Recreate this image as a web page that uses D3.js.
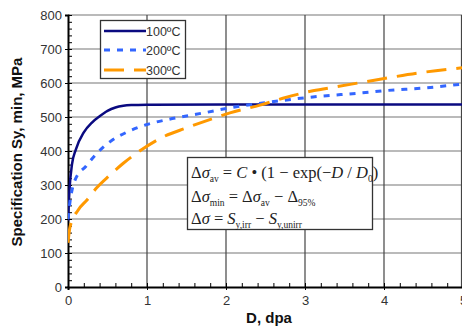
<!DOCTYPE html>
<html><head><meta charset="utf-8">
<script src="https://cdn.jsdelivr.net/npm/d3@7"></script>
<style>body{margin:0;background:#fff}svg{display:block}</style>
</head><body>
<svg id="c" width="462" height="328"></svg>
<script>
const seriesNames = ["100ºC", "200ºC", "300ºC"];
const d100 = [0, 0.02, 0.05, 0.1, 0.2, 0.3, 0.4, 0.5, 0.6, 0.7, 0.8, 1.0, 2, 3, 4, 5];
const v100 = [195, 290, 360, 405, 455, 483, 502, 518, 528, 533, 535, 536, 537, 537, 537, 537];
const d200 = [0, 0.025, 0.09, 0.23, 0.37, 0.53, 0.75, 1.0, 1.25, 1.5, 1.76, 2.05, 2.56, 3.1, 3.73, 4.04, 4.49, 5];
const v200 = [200, 250, 315, 356, 394, 427, 456, 478, 492, 503, 514, 527, 544, 559, 571, 578, 585, 597];
const d300 = [0, 0.025, 0.127, 0.24, 0.36, 0.53, 0.70, 0.87, 1.2, 1.5, 1.89, 2.05, 2.43, 2.72, 3.1, 3.4, 3.95, 4.42, 5];
const v300 = [130, 176, 226, 256, 291, 329, 364, 394, 441, 468, 500, 512, 535, 555, 577, 589, 611, 629, 645];
const xTicks = [0, 1, 2, 3, 4, 5];
const yTicks = [0, 100, 200, 300, 400, 500, 600, 700, 800];

const svg = d3.select("#c");
const x = d3.scaleLinear().domain([0, 5]).range([68, 463]);
const y = d3.scaleLinear().domain([0, 800]).range([287, 15]);

// grid
svg.append("g").selectAll("line").data(yTicks.slice(1)).join("line")
  .attr("x1", x(0)).attr("x2", 462).attr("y1", d => y(d)).attr("y2", d => y(d))
  .attr("stroke", "#777").attr("stroke-width", 1.2);
svg.append("g").selectAll("line").data(xTicks.slice(1)).join("line")
  .attr("x1", d => Math.min(x(d), 461.5)).attr("x2", d => Math.min(x(d), 461.5)).attr("y1", y(0)).attr("y2", y(800))
  .attr("stroke", "#444").attr("stroke-width", 1.2);

// axes
const yAx = svg.append("g").attr("transform", `translate(${x(0)},0)`)
  .call(d3.axisLeft(y).tickValues(yTicks).tickSize(3).tickPadding(3));
yAx.select(".domain").attr("stroke", "#000").attr("stroke-width", 2);
yAx.selectAll("text").attr("font-family", "Liberation Sans, Arial").attr("font-size", 13).attr("fill", "#333");
svg.append("g").attr("transform", `translate(${x(0)},0)`)
  .call(d3.axisRight(y).ticks(40).tickSize(4).tickFormat(""))
  .call(g => g.select(".domain").remove());

const xAx = svg.append("g").attr("transform", `translate(0,${y(0)})`)
  .call(d3.axisBottom(x).tickValues(xTicks).tickFormat(d3.format("d")).tickSize(3).tickPadding(6));
xAx.select(".domain").attr("stroke", "#000").attr("stroke-width", 2);
xAx.selectAll("text").attr("font-family", "Liberation Sans, Arial").attr("font-size", 13).attr("fill", "#333");
svg.append("g").attr("transform", `translate(0,${y(0)})`)
  .call(d3.axisTop(x).ticks(25).tickSize(4).tickFormat(""))
  .call(g => g.select(".domain").remove());

// labels
svg.append("text").attr("transform", "translate(22,152) rotate(-90)").attr("text-anchor", "middle")
  .attr("font-family", "Liberation Sans, Arial").attr("font-weight", "bold").attr("font-size", 15)
  .attr("fill", "#111").text("Specification Sy, min, MPa");
svg.append("text").attr("x", 269).attr("y", 323).attr("text-anchor", "middle")
  .attr("font-family", "Liberation Sans, Arial").attr("font-weight", "bold").attr("font-size", 15)
  .attr("fill", "#111").text("D, dpa");

// equation box
svg.append("rect").attr("x", 187.5).attr("y", 157.5).attr("width", 185).attr("height", 72)
  .attr("fill", "#fff").attr("stroke", "#333").attr("stroke-width", 1.3);
const eqLines = [
  [["Δ",""],["σ","i"],["av","s"],[" = ",""],["C","i"],[" • (1 − exp(−",""],["D","i"],[" / ",""],["D","i"],["0","s"],[")",""]],
  [["Δ",""],["σ","i"],["min","s"],[" = Δ",""],["σ","i"],["av","s"],[" − Δ",""],["95%","s"]],
  [["Δ",""],["σ","i"],[" = ",""],["S","i"],["y,irr","s"],[" − ",""],["S","i"],["y,unirr","s"]]
];
const eqY = [178, 202, 224];
eqLines.forEach((parts, i) => {
  const t = svg.append("text").attr("x", 191).attr("y", eqY[i])
    .attr("font-family", "Liberation Serif, Times New Roman").attr("font-size", 16.5).attr("fill", "#222");
  let prevSub = false;
  parts.forEach(([s, k]) => {
    const ts = t.append("tspan").text(s);
    if (k === "i") ts.attr("font-style", "italic");
    if (k === "s") ts.attr("font-size", 9.5);
    if (k === "s" && !prevSub) ts.attr("dy", 4);
    else if (k !== "s" && prevSub) ts.attr("dy", -4);
    else ts.attr("dy", 0);
    prevSub = k === "s";
  });
});

// curves
const line = d3.line().x(d => x(d[0])).y(d => y(d[1])).curve(d3.curveMonotoneX);
const series = [
  {xs: d100, vs: v100, color: "#0a0a80", dash: null, w: 2.5},
  {xs: d200, vs: v200, color: "#3366ff", dash: "6,7", w: 3},
  {xs: d300, vs: v300, color: "#ff9900", dash: "20,10", w: 3}
];
svg.append("clipPath").attr("id", "pc").append("rect")
  .attr("x", x(0)).attr("y", y(800)).attr("width", 462 - x(0)).attr("height", y(0) - y(800));
series.forEach(s => {
  svg.append("path").datum(s.xs.map((d, i) => [d, s.vs[i]]))
    .attr("d", line).attr("fill", "none").attr("stroke", s.color)
    .attr("stroke-width", s.w).attr("stroke-dasharray", s.dash).attr("clip-path", "url(#pc)");
});

// legend
svg.append("rect").attr("x", 100.5).attr("y", 20.5).attr("width", 85).attr("height", 58)
  .attr("fill", "#fff").attr("stroke", "#333").attr("stroke-width", 1.3);
const legY = [31, 50, 70];
series.forEach((s, i) => {
  svg.append("line").attr("x1", 104).attr("x2", 146).attr("y1", legY[i]).attr("y2", legY[i])
    .attr("stroke", s.color).attr("stroke-width", s.w).attr("stroke-dasharray", s.dash);
  svg.append("text").attr("x", 146).attr("y", legY[i] + 4.5)
    .attr("font-family", "Liberation Sans, Arial").attr("font-size", 12.5).attr("fill", "#333")
    .text(seriesNames[i]);
});
</script>
</body></html>
